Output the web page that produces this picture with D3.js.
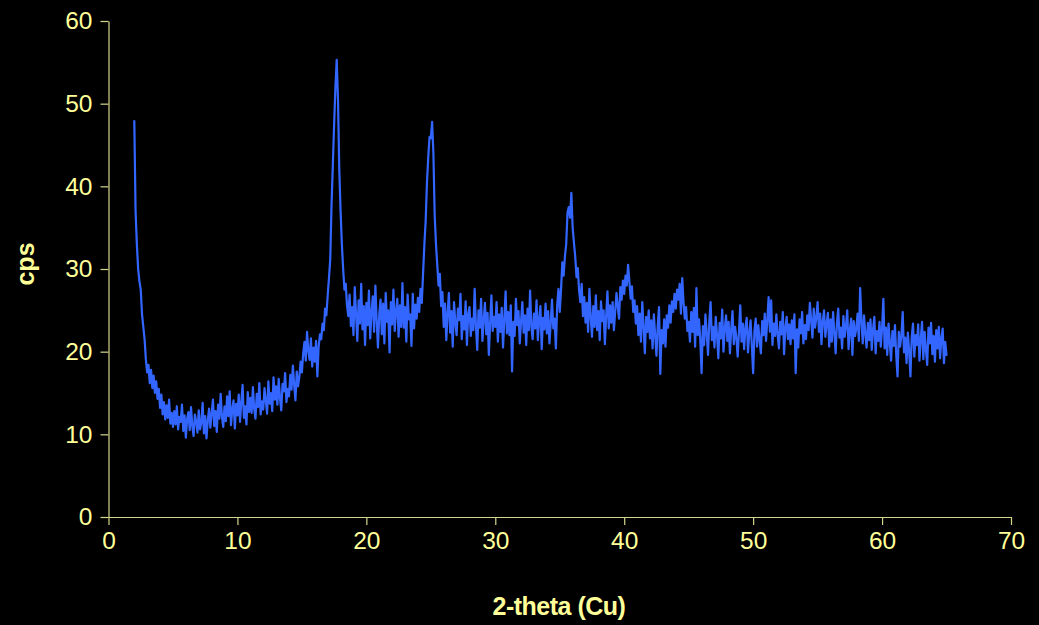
<!DOCTYPE html>
<html>
<head>
<meta charset="utf-8">
<script src="https://cdn.jsdelivr.net/npm/d3@7"></script>
<style>
  html, body { margin: 0; padding: 0; background: #000; }
  svg { display: block; }
</style>
</head>
<body>
<svg id="chart" width="1039" height="625"></svg>
<script>
// ---- data ----
const xTicks = [0, 10, 20, 30, 40, 50, 60, 70];
const yTicks = [0, 10, 20, 30, 40, 50, 60];
const xTitle = "2-theta (Cu)";
const yTitle = "cps";
const startAngle = 2.0;   // first 2-theta value
const stepAngle = 0.1;    // 2-theta step between readings
// cps readings, one row per degree (x.0 ... x.9), starting at 2.0
const cps = [
  48.0, 37.0, 33.0, 30.0, 28.5, 27.5, 24.5, 23.0, 21.5, 19.0,
  17.5, 18.4, 16.2, 17.8, 15.6, 17.1, 15.0, 16.4, 14.3, 15.5,
  13.2, 14.8, 12.4, 13.9, 11.8, 13.5, 12.0, 14.2, 11.3, 12.6,
  10.9, 12.8, 11.2, 13.4, 10.6, 12.1, 11.5, 13.6, 10.4, 12.3,
  9.6, 11.9, 12.7, 10.5, 13.3, 11.0, 9.8, 12.4, 11.6, 10.2,
  12.9, 10.6, 11.4, 13.8, 10.1, 12.2, 9.5, 11.7, 13.1, 10.8,
  12.5, 14.2, 11.0, 12.8, 10.3, 13.6, 11.9, 14.9, 12.1, 10.9,
  13.4, 11.6, 14.6, 12.2, 15.2, 11.1, 13.0, 14.1, 10.7, 13.7,
  12.3, 14.8, 11.5, 13.9, 16.0, 12.0, 13.4, 11.2, 15.1, 12.7,
  14.4, 12.6, 15.7, 13.1, 11.9, 14.9, 13.3, 16.2, 12.4, 14.0,
  13.0, 15.6, 14.1, 12.5, 16.4, 13.7, 15.0, 12.8, 16.9, 14.2,
  15.8, 13.6, 16.7, 14.4, 12.9, 16.1, 15.2, 17.4, 13.9, 15.5,
  14.6, 17.2, 15.4, 18.3, 16.0, 14.1, 17.6, 15.8, 16.9, 18.8,
  17.5, 19.8, 21.2, 18.9, 22.4, 20.1, 19.0, 21.6, 18.2, 20.5,
  18.8, 21.3, 17.0, 20.6, 22.1, 21.5, 23.4, 22.6, 25.2, 24.4,
  26.8, 28.9, 31.2, 37.8, 42.6, 47.5, 52.0, 55.3, 50.5, 42.0,
  37.0, 33.0, 30.0, 27.5, 28.2, 25.6, 24.3, 26.9, 23.1, 25.4,
  22.0, 27.8, 24.6, 21.3, 26.2, 23.4, 28.2, 22.7, 25.5, 20.8,
  25.9, 23.2, 27.4, 21.6, 24.8, 26.7, 22.4, 28.0, 23.8, 20.5,
  24.5, 26.3, 22.1, 25.8, 21.0, 27.1, 23.6, 25.0, 19.9, 26.0,
  23.3, 27.5, 22.5, 24.9, 26.4, 21.8, 25.6, 23.0, 28.3, 22.9,
  25.4, 21.2, 26.9, 23.9, 24.5, 20.7, 27.0, 22.8, 25.7, 24.0,
  26.5, 24.8, 27.6, 25.9, 29.5, 33.0, 35.8, 40.4, 43.5, 46.0,
  45.8, 47.8, 44.0, 36.5, 33.0, 30.5, 28.0, 29.4, 25.5, 27.2,
  23.0, 25.8, 21.4, 24.6, 27.1, 22.3, 24.9, 20.6, 26.0, 23.5,
  22.0, 25.2, 23.8, 27.0, 21.5, 24.3, 22.7, 26.1, 20.8, 24.6,
  25.4, 21.9, 24.0, 22.6, 27.6, 23.1, 20.2, 25.0, 22.9, 26.4,
  21.3, 23.8, 25.9, 22.1, 24.7, 19.6, 23.4, 26.8, 22.5, 24.2,
  23.0, 26.0, 21.2, 24.5, 22.4, 25.3, 20.5, 23.9, 27.3, 22.2,
  24.8, 22.0, 25.6, 17.6, 23.6, 21.9, 26.4, 23.2, 24.9, 21.0,
  23.7, 26.0, 22.3, 24.4, 20.8, 25.2, 22.6, 27.4, 23.0, 21.5,
  24.6, 22.8, 26.2, 21.4, 23.9, 25.5, 20.3, 24.1, 22.7, 25.8,
  22.2, 24.9, 21.0, 23.5, 26.3, 22.8, 24.0, 20.4, 25.6, 27.6,
  24.8, 27.5, 30.8, 29.2, 31.5, 33.0, 36.8, 37.5, 36.2, 39.2,
  35.0, 33.2, 31.5, 29.0, 30.1, 27.4, 26.0, 28.2, 24.3, 26.6,
  23.5, 25.9, 22.4, 27.6, 24.2, 21.8, 25.5, 23.0, 26.8, 22.6,
  24.9, 21.4, 26.1, 23.7, 25.0, 20.9, 24.4, 27.3, 22.8, 25.6,
  23.5, 26.0, 22.6, 24.9, 27.1, 25.4, 24.0, 27.8, 26.3, 28.6,
  27.0, 29.2, 28.0, 30.5, 28.5, 26.4, 27.9, 24.8, 26.2, 23.4,
  25.5, 22.0, 24.6, 21.2, 26.0, 23.1, 19.8, 24.2, 22.4, 25.0,
  21.6, 23.8, 20.4, 24.5, 22.0, 19.5, 23.2, 25.4, 17.3, 22.6,
  21.0, 23.9, 20.6, 24.4, 22.9, 25.6, 23.5, 26.1, 24.8, 27.0,
  25.2, 27.5, 26.3, 28.2, 24.6, 28.9, 26.0, 24.0, 25.4, 22.5,
  23.6, 21.2, 24.8, 22.4, 25.3, 20.6, 27.7, 22.0, 23.9, 21.5,
  17.4, 23.1, 20.8, 24.5, 22.2, 19.6, 23.7, 26.0, 21.4, 23.0,
  20.5, 24.2, 22.0, 19.2, 23.5, 21.6, 25.1, 20.0, 22.8, 24.4,
  21.3, 23.6, 19.8, 22.7, 24.9, 20.9, 23.0, 21.7, 19.4, 22.4,
  25.6, 21.2, 23.4, 20.3, 22.9, 24.1, 19.9, 22.2, 23.8, 20.7,
  17.4, 22.5, 24.0, 20.6, 23.2, 21.4, 19.8, 23.7, 22.0, 24.6,
  21.3, 23.9, 26.6, 22.4, 26.2, 20.8, 23.4, 21.9, 24.5, 22.0,
  20.4, 23.6, 22.1, 24.8, 19.7, 22.9, 24.2, 21.5, 23.3, 20.9,
  23.8, 21.6, 24.5, 17.4, 22.7, 20.5, 23.9, 22.2, 24.8, 21.0,
  23.2, 21.5, 24.4, 22.6, 25.9, 23.8, 21.7, 25.2, 22.9, 24.1,
  26.0, 22.4, 24.6, 20.9, 23.7, 25.0, 21.8, 23.4, 24.7, 20.6,
  23.9, 21.2, 24.8, 22.3, 19.8, 23.5, 25.2, 21.7, 22.9, 20.4,
  24.3, 21.8, 23.1, 25.0, 20.3, 22.6, 24.0, 19.6, 23.7, 21.9,
  22.8, 24.6, 21.3, 27.7, 23.8, 21.0, 24.4, 22.2, 20.5, 23.5,
  21.4, 23.9, 20.2, 22.7, 24.2, 19.8, 22.5, 21.3, 23.6, 20.6,
  22.8, 26.4, 20.4, 22.9, 19.6, 23.4, 21.1, 18.9, 22.5, 20.7,
  23.2, 19.5, 17.0, 22.4, 20.6, 22.0, 24.8, 19.9, 21.7, 18.6,
  22.3, 20.1, 17.0, 21.8, 23.4, 19.4, 22.0, 20.8, 23.3, 18.9,
  21.5, 23.6, 19.1, 22.4, 20.2, 18.4, 22.9, 21.0, 23.5, 19.7,
  21.9, 18.8, 22.6, 20.4, 23.0, 19.2, 21.6, 22.8, 18.6, 21.2,
  19.5
];

// ---- drawing ----
const svg = d3.select("#chart");
const textColor = "#FFFF99";
const axisColor = "#D6D68C";
const font = "'Liberation Sans', Arial, sans-serif";

svg.append("rect").attr("width", 1039).attr("height", 625).attr("fill", "#000");

const x = d3.scaleLinear().domain([0, 70]).range([108.5, 1011]);
const y = d3.scaleLinear().domain([0, 60]).range([517, 21]);

const points = cps.map((v, i) => ({ t: startAngle + i * stepAngle, v }));

// axes
const gx = svg.append("g").attr("transform", `translate(0,${y(0)})`)
  .call(d3.axisBottom(x).tickValues(xTicks).tickSize(8).tickSizeOuter(0).tickPadding(24));
const gy = svg.append("g").attr("transform", `translate(${x(0)},0)`)
  .call(d3.axisLeft(y).tickValues(yTicks).tickSize(8).tickSizeOuter(0).tickPadding(8));

[gx, gy].forEach(g => {
  g.selectAll("path.domain").attr("stroke", axisColor).attr("stroke-width", 1.2);
  g.selectAll(".tick line").attr("stroke", axisColor).attr("stroke-width", 1.2);
  g.selectAll(".tick text")
    .attr("fill", textColor)
    .style("font-family", font)
    .style("font-size", "24.5px");
});
gx.selectAll(".tick text").attr("dy", "0");

// data line
const line = d3.line().x(d => x(d.t)).y(d => y(d.v));
svg.append("path")
  .datum(points)
  .attr("fill", "none")
  .attr("stroke", "#3366FF")
  .attr("stroke-width", 2.2)
  .attr("stroke-linejoin", "round")
  .attr("d", line);

// titles
svg.append("text")
  .attr("x", 559).attr("y", 615)
  .attr("text-anchor", "middle")
  .attr("fill", textColor)
  .style("font-family", font)
  .style("font-weight", "bold")
  .style("font-size", "25px")
  .style("letter-spacing", "-0.5px")
  .text(xTitle);

svg.append("text")
  .attr("transform", "translate(34,264) rotate(-90)")
  .attr("text-anchor", "middle")
  .attr("fill", textColor)
  .style("font-family", font)
  .style("font-weight", "bold")
  .style("font-size", "25px")
  .text(yTitle);
</script>
</body>
</html>
